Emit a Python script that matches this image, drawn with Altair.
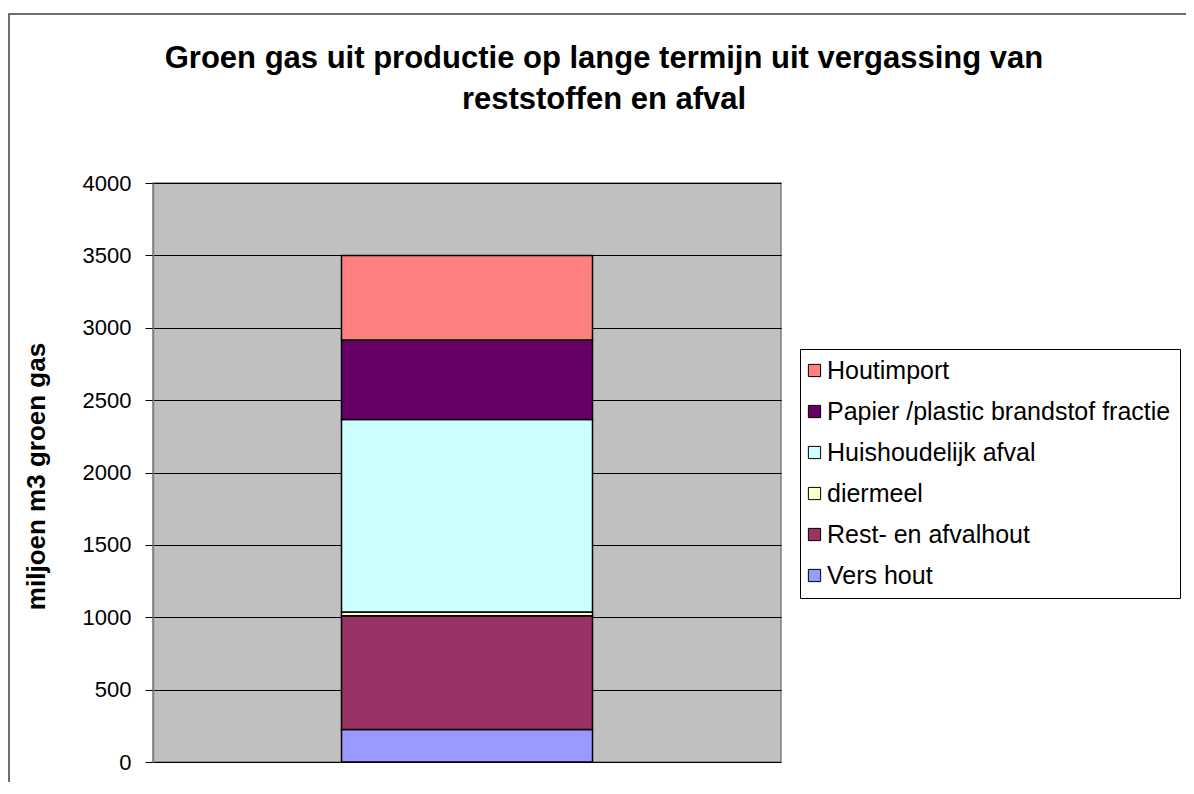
import altair as alt
import pandas as pd

# Data (stack from bottom to top)
bronnen = ["Vers hout", "Rest- en afvalhout", "diermeel", "Huishoudelijk afval",
           "Papier /plastic brandstof fractie", "Houtimport"]
waarden = [225, 786, 25, 1330, 550, 584]
kleuren = ["#9999FF", "#993366", "#FFFFCC", "#CCFFFF", "#660066", "#FF8080"]
y_ticks = [0, 500, 1000, 1500, 2000, 2500, 3000, 3500, 4000]
titel = ["Groen gas uit productie op lange termijn uit vergassing van",
         "reststoffen en afval"]
y_titel = "miljoen m3 groen gas"

df = pd.DataFrame({
    "groep": ["" for _ in bronnen],
    "bron": bronnen,
    "waarde": waarden,
    "volgorde": list(range(len(bronnen))),
})

legend_order = bronnen[::-1]
legend_colors = kleuren[::-1]

FONT = "Liberation Sans"

bars = alt.Chart(df).mark_bar(width=251, stroke="black", strokeWidth=1.5).encode(
    x=alt.X("groep:N", axis=None),
    y=alt.Y("waarde:Q", stack="zero",
            scale=alt.Scale(domain=[0, 4000], nice=False),
            axis=alt.Axis(values=y_ticks, format="d", title=y_titel, grid=True,
                          gridColor="black", gridWidth=1,
                          domainColor="#808080", domainWidth=1.5,
                          tickColor="black", tickSize=8,
                          labelFont=FONT, labelFontSize=22, labelColor="black",
                          labelPadding=14,
                          titleFont=FONT, titleFontSize=26, titleFontWeight="bold",
                          titleColor="black", titleAngle=270,
                          titleX=-117, titleY=293, titleAlign="center",
                          titleBaseline="middle")),
    color=alt.Color("bron:N",
                    scale=alt.Scale(domain=legend_order, range=legend_colors),
                    sort=legend_order,
                    legend=alt.Legend(title=None, orient="none",
                                      legendX=647, legendY=166,
                                      symbolType="square", symbolSize=150,
                                      symbolStrokeColor="black", symbolStrokeWidth=1,
                                      symbolOffset=-7,
                                      labelFont=FONT, labelFontSize=25,
                                      labelColor="black", labelLimit=0,
                                      labelOffset=0,
                                      rowPadding=15, padding=9,
                                      strokeColor="black", fillColor="white")),
    order=alt.Order("volgorde:Q"),
)

border = alt.Chart(pd.DataFrame({"k": [0]})).mark_rect(
    fill="transparent", stroke="#404040", strokeWidth=1.5, clip=False
).encode(
    x=alt.value(-144), x2=alt.value(1200),
    y=alt.value(-169), y2=alt.value(800),
)

chart = alt.layer(bars, border).properties(
    width=628, height=579,
    title=alt.TitleParams(text=titel, font=FONT, fontSize=31, fontWeight="bold",
                          color="black", anchor="middle", frame="group",
                          dx=137, offset=-103, lineHeight=41),
    autosize=alt.AutoSizeParams(type="none"),
    padding={"left": 145, "top": 175, "right": 405, "bottom": 20},
).configure(
    background="white"
).configure_view(
    fill="#C0C0C0", stroke="#808080", strokeWidth=1.5
)

chart.save("out.html", embed_options={"renderer": "svg", "actions": False})
